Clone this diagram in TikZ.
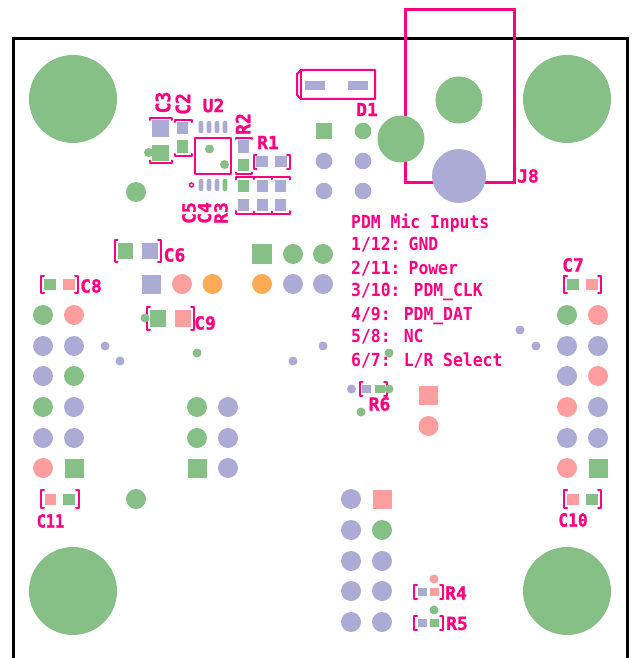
\documentclass[tikz,border=0pt]{standalone}
\usepackage{fontspec}
\newfontfamily\pcb[FakeBold=1.2]{DejaVu Sans Mono}
\newfontfamily\pcbn[FakeStretch=0.91]{DejaVu Sans Mono}
\definecolor{pgreen}{HTML}{86C087}
\definecolor{plav}{HTML}{ABABD5}
\definecolor{psal}{HTML}{FF9E9E}
\definecolor{pora}{HTML}{FFAA55}
\definecolor{ppink}{HTML}{FF0080}
\tikzset{
  silk/.style={draw=ppink,line width=2pt,line cap=round,line join=round},
  heavy/.style={draw=ppink,line width=3pt,line join=miter},
  lbl/.style={text=ppink,font=\pcb\bfseries\fontsize{18}{20}\selectfont,inner sep=0pt,anchor=center},
  note/.style={text=ppink,font=\pcbn\bfseries\fontsize{18}{20}\selectfont,inner sep=0pt,anchor=base west},
  G/.style={fill=pgreen},L/.style={fill=plav},S/.style={fill=psal},O/.style={fill=pora}
}
% dot: style x y r
\newcommand\pdot[4]{\fill[#1] (#2,#3) circle (#4);}
% pad: style x1 y1 x2 y2
\newcommand\ppad[5]{\fill[#1] (#2,#3) rectangle (#4,#5);}
% brackets: x1 x2 y1 y2
\newcommand\pbrk[4]{\draw[silk] (#1+3,#3) -- (#1,#3) -- (#1,#4) -- (#1+3,#4);
  \draw[silk] (#2-3,#3) -- (#2,#3) -- (#2,#4) -- (#2-3,#4);}
\begin{document}
\begin{tikzpicture}[x=1pt,y=-1pt]
\useasboundingbox (0,0) rectangle (640,658);
\fill[white] (0,0) rectangle (640,658);
% board outline
\draw[black,line width=3pt] (13.5,662) -- (13.5,39) -- (627,39) -- (627,662);
% J8
\draw[heavy] (405,10) rectangle (514,182);
% D1
\draw[silk] (297,74) -- (301,70) -- (375,70) -- (375,99) -- (301,99) -- (297,95) -- cycle;
\draw[silk] (301,70) -- (301,99);
% U2
\draw[silk] (194.5,137.5) rectangle (231,174);
\draw[draw=ppink,line width=1.4pt] (191.5,185) circle (2);
% C3, C2, R2, R1 and the group
\draw[silk] (150,120) -- (150,118) -- (172,118) -- (172,120);
\draw[silk] (150,160.5) -- (150,163) -- (172,163) -- (172,160.5);
\draw[silk] (175,122) -- (175,120.5) -- (191.5,120.5) -- (191.5,122);
\draw[silk] (175,154) -- (175,155.5) -- (191.5,155.5) -- (191.5,154);
\draw[silk] (235.5,139) -- (235.5,137.5) -- (252,137.5) -- (252,139);
\draw[silk] (235.5,172.5) -- (235.5,174) -- (252,174) -- (252,172.5);
\pbrk{253.5}{290}{154.5}{169}
\draw[silk] (235.5,179.5) -- (235.5,177) -- (290,177) -- (290,179.5);
\draw[silk] (253.5,179) -- (253.5,177) (271.5,179) -- (271.5,177);
\draw[silk] (235.5,211) -- (235.5,213.5) -- (290,213.5) -- (290,211);
\draw[silk] (253.5,211.5) -- (253.5,213.5) (271.5,211.5) -- (271.5,213.5);
% other brackets
\pbrk{114.5}{161}{239.5}{262}
\pbrk{41}{78}{275.5}{293}
\pbrk{147}{194}{306.5}{330}
\pbrk{359.5}{387}{382}{396}
\pbrk{414}{443}{585}{599}
\pbrk{414}{443}{615.5}{630}
\pbrk{564}{601}{275.5}{293}
\pbrk{41}{79}{490}{508}
\pbrk{564}{601}{490}{508}
% labels
\node[lbl,rotate=90,yscale=1.1] (c3) at (163,102.5) {C3};
\node[lbl,rotate=90,yscale=1.1] (c2) at (183,104) {C2};
\node[lbl,rotate=90,yscale=1.1] (r2) at (243,124) {R2};
\node[lbl,rotate=90] (c5) at (189,213) {C5};
\node[lbl,rotate=90] (c4) at (204.5,213) {C4};
\node[lbl,rotate=90] (r3) at (221,213) {R3};
\node[lbl] (u2) at (213.5,105.5) {U2};
\node[lbl] (r1) at (268,142.5) {R1};
\node[lbl] (d1) at (367,109.5) {D1};
\node[lbl] (j8) at (528,176) {J8};
\node[lbl] (c6) at (174.5,255) {C6};
\node[lbl] (c8) at (91,286) {C8};
\node[lbl] (c9) at (205,323) {C9};
\node[lbl] (c7) at (573,265) {C7};
\node[lbl,xscale=0.85] (c11) at (50.5,521) {C11};
\node[lbl,xscale=0.9] (c10) at (573,520) {C10};
\node[lbl] (r6) at (379.5,404) {R6};
\node[lbl] (r4) at (456,593) {R4};
\node[lbl] (r5) at (457,623.5) {R5};
% note
\node[note] (n0) at (351,228) {PDM Mic Inputs};
\node[note] (n1) at (351,250.5) {1/12:\hspace{-5pt} GND};
\node[note] (n2) at (351,274) {2/11:\hspace{-5pt} Power};
\node[note] (n3) at (351,296) {3/10: PDM\_CLK};
\node[note] (n4) at (351,320) {4/9: PDM\_DAT};
\node[note] (n5) at (351,342) {5/8: NC};
\node[note] (n6) at (351,366.5) {6/7: L/R Select};
% corner and connector pads
\pdot{G}{73}{99}{44} \pdot{G}{567}{99}{44} \pdot{G}{73}{591}{44} \pdot{G}{567}{591}{44}
\pdot{G}{459}{100}{23.5} \pdot{L}{459}{176}{27} \pdot{G}{401}{139}{23.5}
\ppad{L}{305}{81}{325}{90} \ppad{L}{348}{81}{368}{90}
% J header by D1
\ppad{G}{316}{123}{332}{139} \pdot{G}{363}{131}{8.3}
\pdot{L}{324}{161}{8.3} \pdot{L}{363}{161}{8.3} \pdot{L}{324}{191}{8.3} \pdot{L}{363}{191}{8.3}
% U2 pads
\foreach \x in {201,209,217,225} {\fill[L,rounded corners=2pt] (\x-2.4,121) rectangle (\x+2.4,133);}
\foreach \x in {201,209,217} {\fill[L,rounded corners=2pt] (\x-2.4,179) rectangle (\x+2.4,191);}
\fill[G,rounded corners=2pt] (222.6,179) rectangle (227.4,191);
\pdot{G}{209.5}{149}{4.5} \pdot{G}{224.5}{164.5}{4.5}
% small part pads
\ppad{L}{152}{120}{169}{137} \ppad{G}{152}{145}{169}{161} \pdot{G}{148.5}{152.5}{4.5}
\ppad{L}{177}{122}{188}{134} \ppad{G}{177}{140}{188}{153}
\ppad{L}{238}{140}{249}{153} \ppad{G}{238}{159}{249}{171}
\ppad{L}{256}{156}{268}{167} \ppad{L}{275}{156}{287}{167}
\ppad{G}{238}{180}{249}{192} \ppad{L}{238}{199}{249}{211}
\ppad{L}{257}{180}{268}{192} \ppad{L}{257}{199}{268}{211}
\ppad{L}{275}{180}{286}{192} \ppad{L}{275}{199}{286}{211}
\pdot{G}{136}{192}{10} \pdot{G}{136}{499}{10}
% rows near centre
\ppad{G}{252}{244}{272}{264} \pdot{G}{293}{254}{10} \pdot{G}{323}{254}{10}
\ppad{L}{142}{275}{161}{294} \pdot{S}{182}{284}{10} \pdot{O}{212.5}{284}{10}
\pdot{O}{262}{284}{10} \pdot{L}{293}{284}{10} \pdot{L}{323}{284}{10}
% capacitors
\ppad{G}{118}{243}{133}{259} \ppad{L}{142}{243}{158}{259}
\ppad{G}{44}{279}{56}{290} \ppad{S}{63}{279}{75}{290}
\pdot{G}{145}{318}{4.5} \ppad{G}{150}{310}{166}{327} \ppad{S}{175}{310}{191}{327}
\ppad{G}{567}{279}{579}{290} \ppad{S}{586}{279}{598}{290}
\ppad{S}{45}{494}{56}{505} \ppad{G}{63}{494}{75}{505}
\ppad{S}{567}{494}{579}{505} \ppad{G}{586}{494}{598}{505}
% left header
\pdot{G}{43}{315}{10} \pdot{S}{74}{315}{10}
\pdot{L}{43}{346}{10} \pdot{L}{74}{346}{10}
\pdot{L}{43}{376}{10} \pdot{G}{74}{376}{10}
\pdot{G}{43}{407}{10} \pdot{L}{74}{407}{10}
\pdot{L}{43}{438}{10} \pdot{L}{74}{438}{10}
\pdot{S}{43}{468}{10} \ppad{G}{64.5}{458.5}{83.5}{477.5}
% middle header
\pdot{G}{197}{407}{10} \pdot{L}{228}{407}{10}
\pdot{G}{197}{438}{10} \pdot{L}{228}{438}{10}
\ppad{G}{187.5}{458.5}{206.5}{477.5} \pdot{L}{228}{468}{10}
% right header
\pdot{G}{567}{315}{10} \pdot{S}{598}{315}{10}
\pdot{L}{567}{346}{10} \pdot{L}{598}{346}{10}
\pdot{L}{567}{376}{10} \pdot{S}{598}{376}{10}
\pdot{S}{567}{407}{10} \pdot{L}{598}{407}{10}
\pdot{L}{567}{438}{10} \pdot{L}{598}{438}{10}
\pdot{S}{567}{468}{10} \ppad{G}{588.5}{458.5}{607.5}{477.5}
% bottom header
\pdot{L}{351}{499}{10} \ppad{S}{372.5}{489.5}{391.5}{508.5}
\pdot{L}{351}{530}{10} \pdot{G}{382}{530}{10}
\pdot{L}{351}{561}{10} \pdot{L}{382}{561}{10}
\pdot{L}{351}{591}{10} \pdot{L}{382}{591}{10}
\pdot{L}{351}{622}{10} \pdot{L}{382}{622}{10}
% vias
\pdot{L}{105}{346}{4.5} \pdot{L}{120}{361}{4.5} \pdot{G}{197}{353}{4.5}
\pdot{L}{293}{361}{4.5} \pdot{L}{323}{346}{4.5} \pdot{G}{389}{353}{4.5}
\pdot{L}{520}{330}{4.5} \pdot{L}{536}{346}{4.5}
% R6 area
\pdot{L}{351.5}{389}{4.5} \pdot{G}{389}{389}{4.5}
\ppad{L}{362}{385}{371}{393} \ppad{G}{375}{385}{385}{393}
\pdot{G}{361}{412}{4.5}
\ppad{S}{419}{386}{438}{405} \pdot{S}{428.5}{426}{10}
% R4 R5
\pdot{S}{434}{579}{4.5} \ppad{L}{418}{588}{427}{596} \ppad{S}{430}{588}{439}{596}
\pdot{G}{434}{610}{4.5} \ppad{L}{418}{619}{427}{627} \ppad{G}{430}{619}{439}{627}
\end{tikzpicture}
\end{document}
